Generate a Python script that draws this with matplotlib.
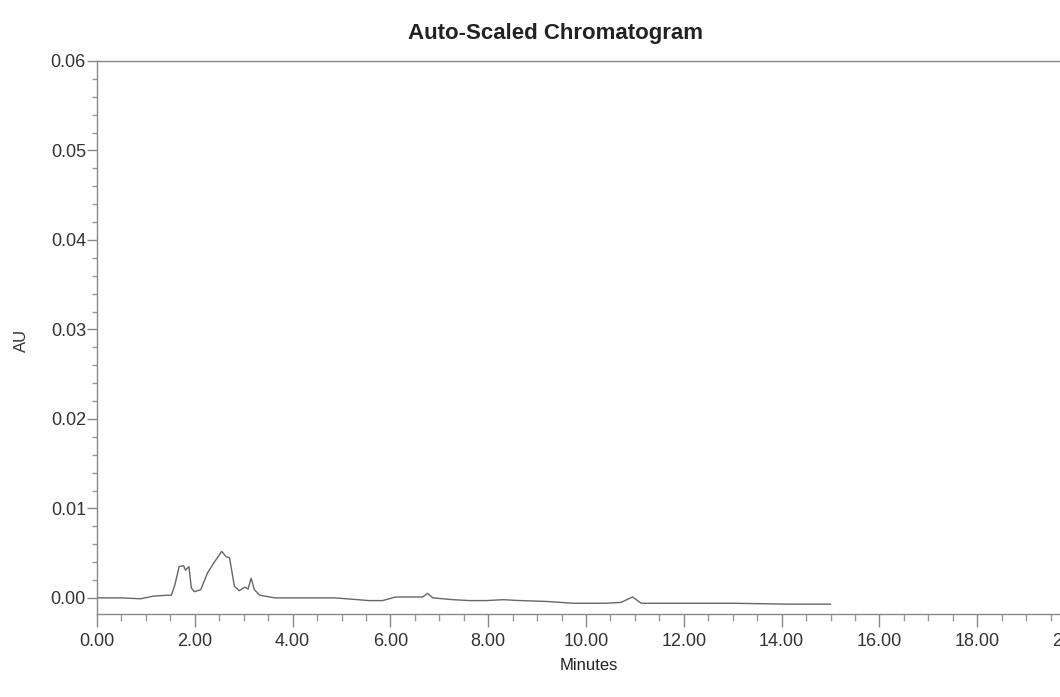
import numpy as np
import matplotlib.pyplot as plt
from matplotlib.ticker import MultipleLocator, FormatStrFormatter

# trace (minutes, AU)
minutes = [0.00, 0.50, 0.89, 1.16, 1.44, 1.52, 1.59, 1.68, 1.77, 1.81, 1.88, 1.93,
           1.99, 2.12, 2.26, 2.40, 2.55, 2.64, 2.71, 2.81, 2.91, 3.02, 3.09, 3.15,
           3.22, 3.33, 3.64, 4.19, 4.87, 5.56, 5.84, 6.11, 6.32, 6.66, 6.76, 6.87,
           7.28, 7.62, 7.96, 8.31, 8.65, 9.20, 9.75, 10.40, 10.72, 10.95, 11.13,
           12.09, 13.00, 14.14, 15.00]
au = [0.0000, 0.0000, -0.0001, 0.0002, 0.0003, 0.0003, 0.0014, 0.0035, 0.0036, 0.0031,
      0.0035, 0.0011, 0.0007, 0.0009, 0.0028, 0.0040, 0.0052, 0.0046, 0.0045, 0.0013,
      0.0008, 0.0012, 0.0010, 0.0022, 0.0009, 0.0003, 0.0000, 0.0000, 0.0000, -0.0003,
      -0.0003, 0.0001, 0.0001, 0.0001, 0.0005, 0.0000, -0.0002, -0.0003, -0.0003,
      -0.0002, -0.0003, -0.0004, -0.0006, -0.0006, -0.0005, 0.0001, -0.0006,
      -0.0006, -0.0006, -0.0007, -0.0007]

plt.rcParams['font.family'] = ['Liberation Sans', 'DejaVu Sans']

fig = plt.figure(figsize=(10.6, 6.97), dpi=100)
ax = fig.add_axes([97 / 1060, 83 / 697, 978 / 1060, 553 / 697])

ax.plot(minutes, au, color='#666666', lw=1.0)

ax.set_xlim(0, 20)
ax.set_ylim(-0.0018, 0.06)
ax.xaxis.set_major_locator(MultipleLocator(2))
ax.xaxis.set_minor_locator(MultipleLocator(0.5))
ax.yaxis.set_major_locator(MultipleLocator(0.01))
ax.yaxis.set_minor_locator(MultipleLocator(0.002))
ax.xaxis.set_major_formatter(FormatStrFormatter('%.2f'))
ax.yaxis.set_major_formatter(FormatStrFormatter('%.2f'))

for s in ['left', 'bottom', 'top']:
    ax.spines[s].set_color('#888888')
    ax.spines[s].set_linewidth(1.0)
ax.spines['right'].set_visible(False)

ax.tick_params(which='major', direction='out', length=7, width=1, color='#888888',
               labelsize=13, labelcolor='#333333', pad=1)
ax.tick_params(which='minor', direction='out', length=3.6, width=1, color='#999999')
ax.tick_params(axis='x', which='major', length=9.4, pad=4)
ax.tick_params(axis='x', which='minor', length=5)

fig.text(555 / 1060, 1 - 33 / 697, 'Auto-Scaled Chromatogram', ha='center', va='center',
         fontsize=16, fontweight='bold', color='#222222')
fig.text(21 / 1060, 1 - 340 / 697, 'AU', rotation=90, ha='center', va='center',
         fontsize=12, color='#333333')
fig.text(589 / 1060, 1 - 665 / 697, 'Minutes', ha='center', va='center',
         fontsize=12, color='#222222')

fig.savefig('out.png', dpi=100)
